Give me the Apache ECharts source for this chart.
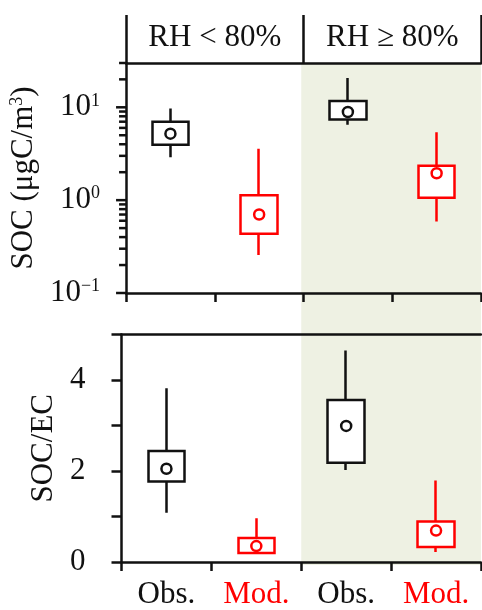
<!DOCTYPE html>
<html>
<head>
<meta charset="utf-8">
<script src="https://cdn.jsdelivr.net/npm/echarts@6/dist/echarts.min.js"></script>
<style>
html,body{margin:0;padding:0;background:#fff;}
#chart{width:482px;height:610px;}
</style>
</head>
<body>
<div id="chart"></div>
<script>
// ---- data ----
const categories = ['Obs.', 'Mod.', 'Obs.', 'Mod.'];
const groups = ['RH < 80%', 'RH \u2265 80%'];
// each entry: [min, q1, mean, q3, max]  (one per RH group)
const socObs = [[2.9, 3.96, 5.2, 7.0, 9.7], [6.5, 7.4, 8.9, 11.7, 20.7]];
const socMod = [[0.257, 0.435, 0.70, 1.13, 3.58], [0.59, 1.06, 1.95, 2.34, 5.4]];
const ratioObs = [[1.08, 1.77, 2.05, 2.44, 3.82], [2.02, 2.18, 2.99, 3.56, 4.65]];
const ratioMod = [[0.17, 0.20, 0.35, 0.53, 0.96], [0.22, 0.33, 0.69, 0.89, 1.79]];
const socMajorTicks = [0.1, 1, 10];
const socMinorTicks = [0.2, 0.3, 0.4, 0.5, 0.6, 0.7, 0.8, 0.9, 2, 3, 4, 5, 6, 7, 8, 9, 20, 30];
const socRange = [0.1, 30];
const ratioRange = [0, 5];
const ratioLabelTicks = [0, 2, 4];

// ---- style / layout ----
const FONT = '"Liberation Serif", "Times New Roman", serif';
const BLACK = '#111111';
const RED = '#ff0000';
const SHADE = '#eef1e3';
const LW = 2.5;
const G_LEFT = 121.5, G_RIGHT = 1;
const G0_TOP = 63, G0_H = 230;
const G1_TOP = 334.5, G1_H = 230.5;
const W = 482;

function candle(stats, slot) {
  const out = categories.map(() => '-');
  stats.forEach((s, g) => { out[g * 2 + slot] = [s[1], s[3], s[0], s[4]]; });
  return out;
}
function means(stats, slot) {
  return stats.map((s, g) => [g * 2 + slot, s[2]]);
}
function candleSeries(stats, slot, color, xi, yi) {
  return {
    type: 'candlestick', xAxisIndex: xi, yAxisIndex: yi,
    barWidth: 37, data: candle(stats, slot), z: 3,
    itemStyle: { color: '#fff', color0: '#fff', borderColor: color, borderColor0: color, borderWidth: LW }
  };
}
function meanSeries(stats, slot, color, xi, yi) {
  return {
    type: 'scatter', xAxisIndex: xi, yAxisIndex: yi, z: 4,
    symbol: 'circle', symbolSize: 10, data: means(stats, slot),
    itemStyle: { color: '#fff', borderColor: color, borderWidth: LW, opacity: 1 }
  };
}
function tickSeries(values, len) {
  return {
    type: 'custom', xAxisIndex: 1, yAxisIndex: 0, z: 5, silent: true,
    data: values.map(v => [0, v]),
    renderItem: function (params, api) {
      const y = api.coord([0, api.value(1)])[1];
      const x = params.coordSys.x;
      return { type: 'line', shape: { x1: x - len, y1: y, x2: x, y2: y },
               style: { stroke: BLACK, lineWidth: LW } };
    }
  };
}
const lineStyle = { color: BLACK, width: LW };

const chart = echarts.init(document.getElementById('chart'), null, { renderer: 'canvas' });
const option = {
  animation: false,
  backgroundColor: '#fff',
  textStyle: { fontFamily: FONT },
  grid: [
    { show: false, borderWidth: 0, left: G_LEFT, right: G_RIGHT, top: G0_TOP, height: G0_H, containLabel: false },
    { show: false, borderWidth: 0, left: G_LEFT, right: G_RIGHT, top: G1_TOP, height: G1_H, containLabel: false }
  ],
  graphic: [{
    type: 'rect', z: -100, silent: true,
    shape: { x: G_LEFT + (W - G_RIGHT - G_LEFT) / 2, y: G0_TOP,
             width: (W - G_RIGHT - G_LEFT) / 2, height: G1_TOP + G1_H - G0_TOP },
    style: { fill: SHADE }
  }],
  xAxis: [
    { gridIndex: 0, type: 'category', position: 'top', data: groups,
      axisLine: { show: true, lineStyle }, axisTick: { show: true, length: 48, lineStyle },
      axisLabel: { interval: 0, margin: 10, fontSize: 31, color: BLACK, fontFamily: FONT },
      splitLine: { show: false } },
    { gridIndex: 0, type: 'category', position: 'bottom', data: categories,
      axisLine: { show: true, lineStyle }, axisTick: { show: true, interval: 0, length: 9, lineStyle },
      axisLabel: { show: false }, splitLine: { show: false } },
    { gridIndex: 1, type: 'category', position: 'bottom', data: categories,
      axisLine: { show: true, lineStyle }, axisTick: { show: true, interval: 0, length: 9, lineStyle },
      axisLabel: { interval: 0, margin: 17, fontSize: 31, fontFamily: FONT,
        formatter: (v, i) => (i % 2 ? '{r|' + v + '}' : '{k|' + v + '}'),
        rich: { r: { color: RED, fontSize: 31, fontFamily: FONT }, k: { color: BLACK, fontSize: 31, fontFamily: FONT } } },
      splitLine: { show: false } },
    { gridIndex: 1, type: 'category', position: 'top', data: categories,
      axisLine: { show: true, lineStyle }, axisTick: { show: false }, axisLabel: { show: false },
      splitLine: { show: false } }
  ],
  yAxis: [
    { gridIndex: 0, type: 'log', logBase: 10, min: socRange[0], max: socRange[1],
      axisLine: { show: true, lineStyle }, axisTick: { show: false },
      splitLine: { show: false },
      name: 'SOC (\u03bcgC/m{s|3})', nameLocation: 'middle', nameRotate: 90, nameGap: 73,
      nameTextStyle: { fontSize: 31, fontFamily: FONT, color: BLACK,
        rich: { s: { fontSize: 18, verticalAlign: 'top', fontFamily: FONT, color: BLACK } } },
      axisLabel: { margin: 26, color: BLACK,
        formatter: function (v) {
          const e = Math.log10(v); const r = Math.round(e);
          if (Math.abs(e - r) > 1e-6 || socMajorTicks.indexOf(Math.pow(10, r)) < 0) return '';
          return '{b|10}{s|' + (r < 0 ? '\u2212' + (-r) : r) + '}';
        },
        rich: { b: { fontSize: 31, fontFamily: FONT, color: BLACK },
                s: { fontSize: 18, fontFamily: FONT, color: BLACK, verticalAlign: 'top' } } } },
    { gridIndex: 1, type: 'value', min: ratioRange[0], max: ratioRange[1], interval: 1,
      axisLine: { show: true, lineStyle }, axisTick: { show: true, length: 10, lineStyle },
      splitLine: { show: false },
      name: 'SOC/EC', nameLocation: 'middle', nameRotate: 90, nameGap: 61,
      nameTextStyle: { fontSize: 31, fontFamily: FONT, color: BLACK },
      axisLabel: { margin: 36, fontSize: 31, fontFamily: FONT, color: BLACK,
        formatter: v => (ratioLabelTicks.indexOf(v) >= 0 ? String(v) : '') } }
  ],
  series: [
    candleSeries(socObs, 0, BLACK, 1, 0),
    candleSeries(socMod, 1, RED, 1, 0),
    meanSeries(socObs, 0, BLACK, 1, 0),
    meanSeries(socMod, 1, RED, 1, 0),
    tickSeries(socMajorTicks, 10),
    tickSeries(socMinorTicks, 7),
    candleSeries(ratioObs, 0, BLACK, 2, 1),
    candleSeries(ratioMod, 1, RED, 2, 1),
    meanSeries(ratioObs, 0, BLACK, 2, 1),
    meanSeries(ratioMod, 1, RED, 2, 1)
  ]
};
chart.setOption(option);
</script>
</body>
</html>
